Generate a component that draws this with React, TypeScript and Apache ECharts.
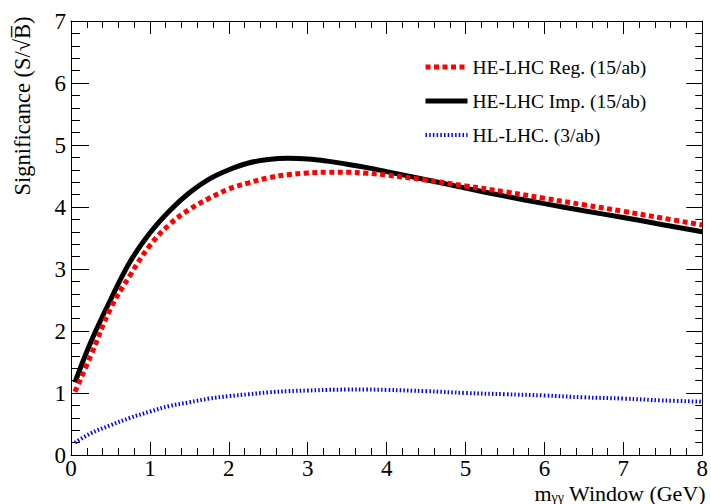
import React, { useEffect, useRef } from "react";
import * as echarts from "echarts";

const xVals = [0.05, 0.25, 0.5, 0.75, 1.0, 1.25, 1.5, 1.75, 2.0, 2.25, 2.5, 2.75, 3.0, 3.25, 3.5, 3.75, 4.0, 4.5, 5.0, 5.5, 6.0, 6.5, 7.0, 7.5, 8.0];
const heReg = [1.02, 1.6, 2.36, 2.9, 3.38, 3.72, 3.96, 4.14, 4.29, 4.39, 4.47, 4.52, 4.55, 4.56, 4.56, 4.545, 4.515, 4.435, 4.34, 4.245, 4.14, 4.035, 3.93, 3.82, 3.71];
const heImp = [1.17, 1.82, 2.5, 3.12, 3.58, 3.94, 4.23, 4.45, 4.6, 4.71, 4.765, 4.785, 4.775, 4.74, 4.69, 4.635, 4.57, 4.44, 4.305, 4.175, 4.055, 3.94, 3.83, 3.715, 3.6];
const hlLhc = [0.2, 0.35, 0.48, 0.6, 0.7, 0.79, 0.85, 0.91, 0.95, 0.98, 1.01, 1.03, 1.04, 1.05, 1.055, 1.055, 1.05, 1.03, 1.0, 0.98, 0.96, 0.93, 0.91, 0.88, 0.86];

const seriesNames = ["HE-LHC Reg. (15/ab)", "HE-LHC Imp. (15/ab)", "HL-LHC. (3/ab)"];
const xTitleMain = "m";
const xTitleSub = "\u03B3\u03B3";
const xTitleRest = "Window (GeV)";
const yTitle = "Significance (S/\u221AB\u0305)";

const FONT = "Liberation Serif";

export default function App() {
  const ref = useRef<HTMLDivElement>(null);
  useEffect(() => {
    if (!ref.current) return;
    const chart = echarts.init(ref.current, undefined, { renderer: "svg" });
    const pair = (ys: number[]) => xVals.map((x, i) => [x, ys[i]]);
    const tickCommon = (len: number, minorLen: number) => ({
      axisLine: { show: true, onZero: false, lineStyle: { color: "#000", width: 1 } },
      axisTick: { show: true, inside: true, length: len, lineStyle: { color: "#000", width: 1 } },
      minorTick: { show: true, splitNumber: 5, length: minorLen, lineStyle: { color: "#000", width: 1 } },
      splitLine: { show: false },
      minorSplitLine: { show: false },
    });
    chart.setOption({
      animation: false,
      backgroundColor: "#fff",
      grid: { left: 71, right: 5, top: 21, bottom: 49, containLabel: false },
      xAxis: [
        {
          type: "value", min: 0, max: 8, interval: 1, position: "bottom",
          ...tickCommon(13, 7),
          axisLabel: { color: "#000", fontFamily: FONT, fontSize: 23, margin: 2 },
        },
        {
          type: "value", min: 0, max: 8, interval: 1, position: "top",
          ...tickCommon(13, 7),
          axisLabel: { show: false },
        },
      ],
      yAxis: [
        {
          type: "value", min: 0, max: 7, interval: 1, position: "left",
          ...tickCommon(18, 9),
          axisLabel: { color: "#000", fontFamily: FONT, fontSize: 23, margin: 5 },
        },
        {
          type: "value", min: 0, max: 7, interval: 1, position: "right",
          ...tickCommon(16, 7),
          axisLabel: { show: false },
        },
      ],
      legend: {
        orient: "vertical",
        left: 418,
        top: 52,
        itemWidth: 42,
        itemHeight: 14,
        itemGap: 14,
        itemStyle: { opacity: 0 },
        lineStyle: { width: "inherit", type: "inherit" },
        textStyle: { fontFamily: FONT, fontSize: 19.5, color: "#000", padding: [0, 0, 0, 0] },
        data: seriesNames,
      },
      series: [
        {
          name: seriesNames[0], type: "line", smooth: 0.4, symbol: "none",
          data: pair(heReg),
          lineStyle: { color: "#ff0000", width: 5, type: [5, 3.5] },
          itemStyle: { color: "#ff0000" },
          z: 3,
        },
        {
          name: seriesNames[1], type: "line", smooth: 0.4, symbol: "none",
          data: pair(heImp),
          lineStyle: { color: "#000", width: 5, type: "solid" },
          itemStyle: { color: "#000" },
          z: 2,
        },
        {
          name: seriesNames[2], type: "line", smooth: 0.4, symbol: "none",
          data: pair(hlLhc),
          lineStyle: { color: "#0000ff", width: 4, type: [1.5, 2.2] },
          itemStyle: { color: "#0000ff" },
          z: 2,
        },
      ],
      graphic: [
        {
          type: "text",
          right: 5,
          top: 482,
          style: {
            text: "{a|" + xTitleMain + "}{s|" + xTitleSub + "}{a| " + xTitleRest + "}",
            fill: "#000",
            rich: {
              a: { fontFamily: FONT, fontSize: 22, lineHeight: 20, fill: "#000", verticalAlign: "bottom" },
              s: { fontFamily: FONT, fontSize: 14, lineHeight: 10, fill: "#000", verticalAlign: "bottom" },
            },
          },
        },
        {
          type: "text",
          x: 22,
          y: 106,
          rotation: Math.PI / 2,
          style: {
            text: yTitle,
            fontFamily: FONT,
            fontSize: 22.5,
            fill: "#000",
            align: "center",
            verticalAlign: "middle",
          },
        },
      ],
    });
    return () => chart.dispose();
  }, []);
  return (
    <div
      ref={ref}
      style={{ position: "fixed", left: 0, top: 0, width: 711, height: 504, background: "#fff" }}
    />
  );
}
